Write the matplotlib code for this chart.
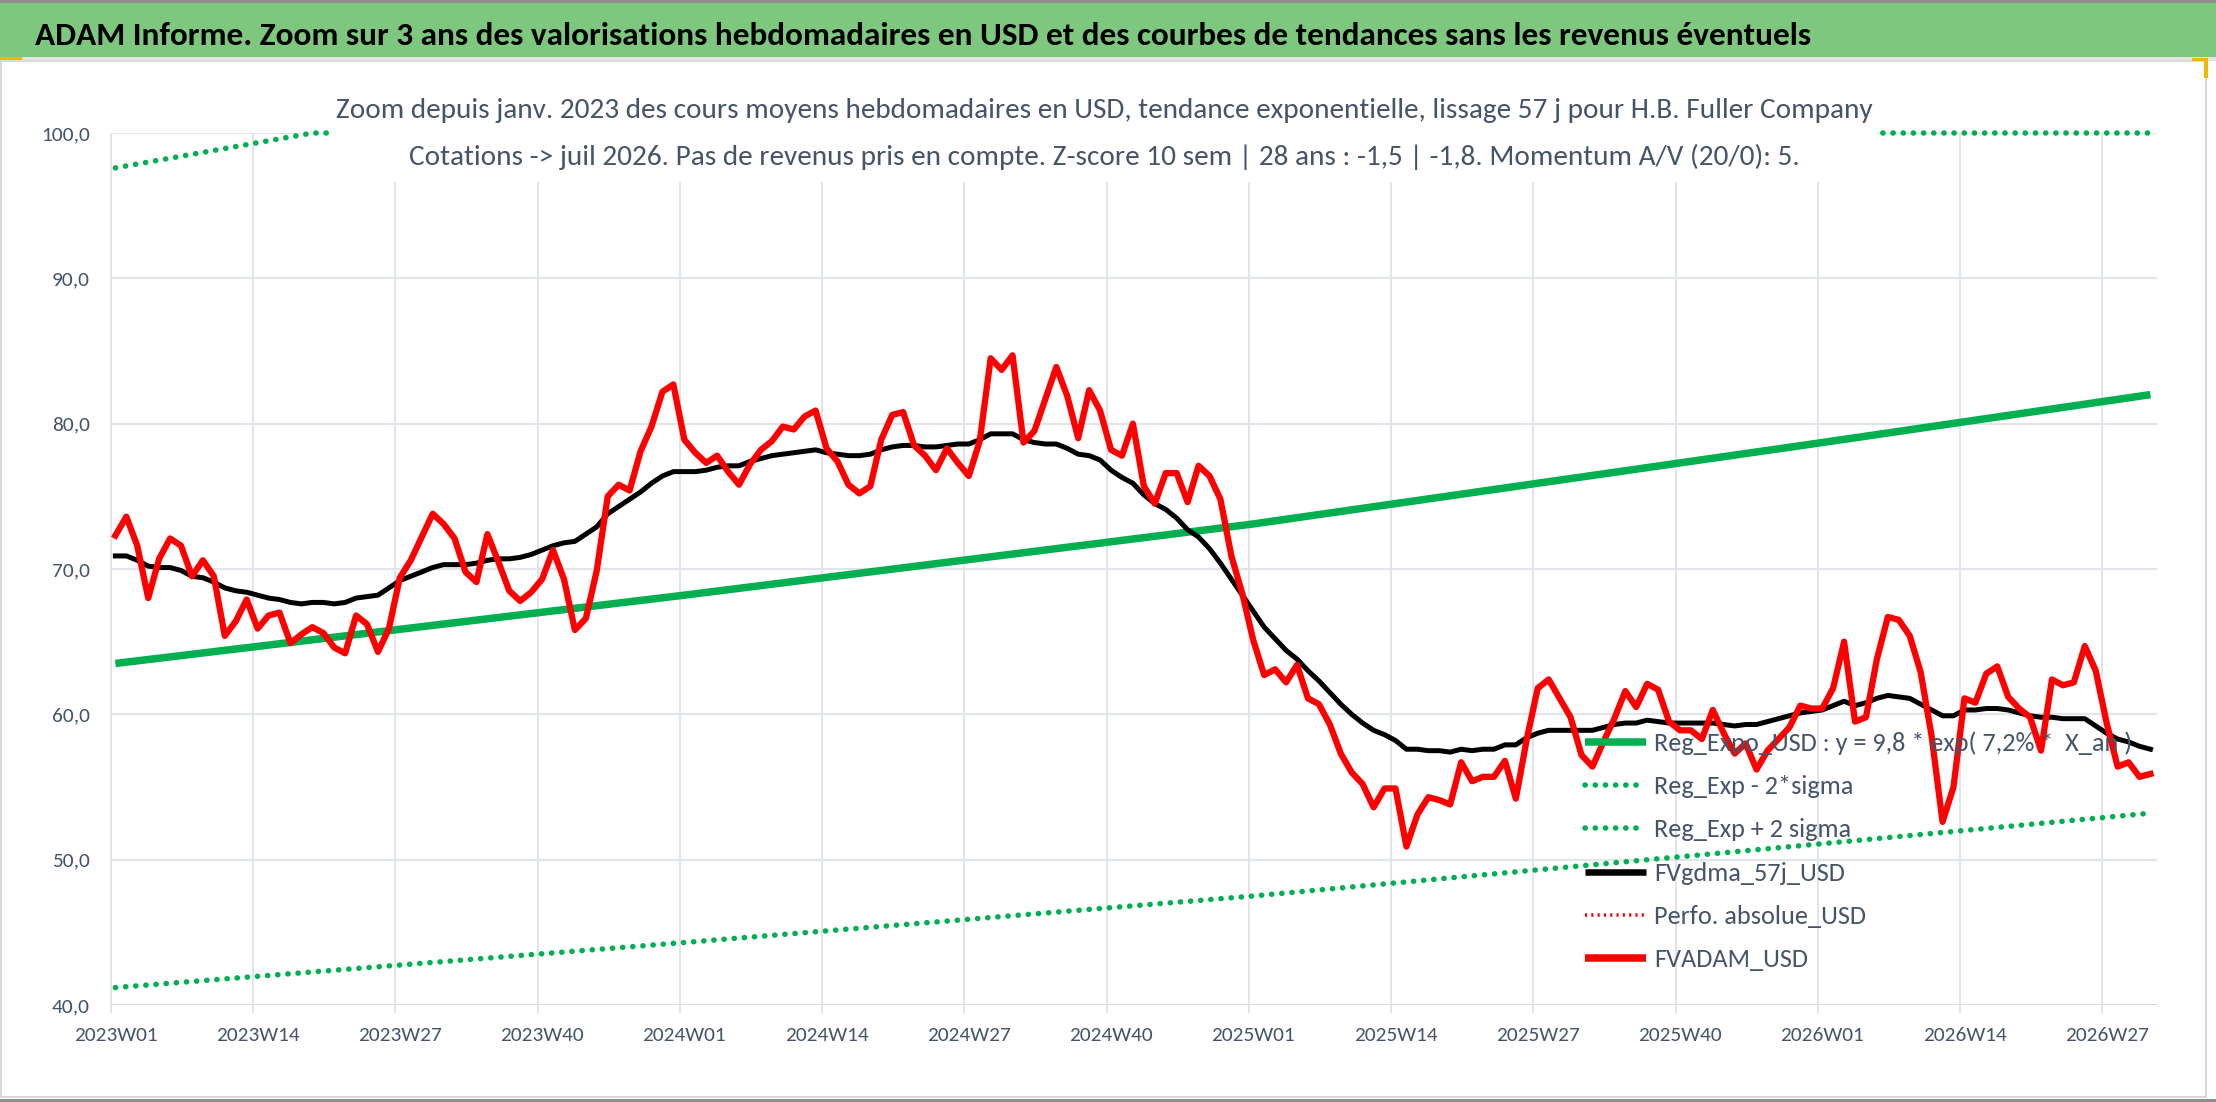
import matplotlib
matplotlib.use('Agg')
import matplotlib.pyplot as plt
from matplotlib import font_manager as fm
from matplotlib.lines import Line2D
from matplotlib.patches import Rectangle
import numpy as np

W, H, DPI = 2216, 1102, 100

# ---------------- data ----------------
title = "ADAM Informe. Zoom sur 3 ans des valorisations hebdomadaires en USD et des courbes de tendances sans les revenus éventuels"
subtitle1 = "Zoom depuis janv. 2023 des cours moyens hebdomadaires en USD, tendance exponentielle, lissage 57 j pour H.B. Fuller Company"
subtitle2 = "Cotations -> juil 2026. Pas de revenus pris en compte. Z-score 10 sem | 28 ans : -1,5 | -1,8. Momentum A/V (20/0): 5."

tick_labels = ['2023W01', '2023W14', '2023W27', '2023W40', '2024W01', '2024W14', '2024W27',
               '2024W40', '2025W01', '2025W14', '2025W27', '2025W40', '2026W01', '2026W14', '2026W27']
y_ticks = [40, 50, 60, 70, 80, 90, 100]
y_tick_labels = ['40,0', '50,0', '60,0', '70,0', '80,0', '90,0', '100,0']

fvadam_usd = [
    72.3, 73.6, 71.6, 68.0, 70.7, 72.1, 71.6, 69.5, 70.6, 69.5,
    65.4, 66.4, 67.9, 65.9, 66.8, 67.0, 64.9, 65.5, 66.0, 65.6,
    64.6, 64.2, 66.8, 66.2, 64.3, 65.9, 69.4, 70.6, 72.2, 73.8,
    73.1, 72.1, 69.8, 69.1, 72.4, 70.5, 68.5, 67.8, 68.4, 69.3,
    71.3, 69.3, 65.8, 66.6, 69.9, 75.0, 75.8, 75.4, 78.1, 79.8,
    82.2, 82.7, 78.9, 78.0, 77.3, 77.8, 76.7, 75.8, 77.2, 78.2,
    78.8, 79.8, 79.6, 80.5, 80.9, 78.3, 77.4, 75.8, 75.2, 75.7,
    78.9, 80.6, 80.8, 78.5, 77.8, 76.8, 78.3, 77.3, 76.4, 78.8,
    84.5, 83.7, 84.7, 78.7, 79.5, 81.7, 83.9, 81.9, 79.0, 82.3,
    80.9, 78.2, 77.8, 80.0, 75.7, 74.5, 76.6, 76.6, 74.6, 77.1,
    76.4, 74.8, 70.9, 68.3, 65.1, 62.7, 63.1, 62.2, 63.4, 61.1,
    60.7, 59.3, 57.3, 56.0, 55.2, 53.6, 54.9, 54.9, 50.9, 53.1,
    54.3, 54.1, 53.8, 56.7, 55.4, 55.7, 55.7, 56.8, 54.2, 58.3,
    61.8, 62.4, 61.1, 59.8, 57.2, 56.4, 58.1, 59.7, 61.6, 60.5,
    62.1, 61.7, 59.5, 58.9, 58.9, 58.3, 60.3, 58.7, 57.3, 58.0,
    56.2, 57.5, 58.3, 59.1, 60.6, 60.4, 60.4, 61.8, 65.0, 59.5,
    59.8, 63.8, 66.7, 66.5, 65.4, 62.9, 58.5, 52.6, 55.0, 61.1,
    60.8, 62.8, 63.3, 61.2, 60.4, 59.8, 57.5, 62.4, 62.0, 62.2,
    64.7, 63.0, 59.4, 56.4, 56.7, 55.7, 55.9]

fvgdma_57j_usd = [
    70.9, 70.9, 70.6, 70.2, 70.1, 70.1, 69.9, 69.5, 69.4, 69.1,
    68.7, 68.5, 68.4, 68.2, 68.0, 67.9, 67.7, 67.6, 67.7, 67.7,
    67.6, 67.7, 68.0, 68.1, 68.2, 68.7, 69.2, 69.5, 69.8, 70.1,
    70.3, 70.3, 70.3, 70.4, 70.6, 70.7, 70.7, 70.8, 71.0, 71.3,
    71.6, 71.8, 71.9, 72.4, 72.9, 73.8, 74.3, 74.8, 75.3, 75.9,
    76.4, 76.7, 76.7, 76.7, 76.8, 77.0, 77.1, 77.1, 77.4, 77.6,
    77.8, 77.9, 78.0, 78.1, 78.2, 78.0, 77.9, 77.8, 77.8, 77.9,
    78.2, 78.4, 78.5, 78.5, 78.4, 78.4, 78.5, 78.6, 78.6, 78.9,
    79.3, 79.3, 79.3, 78.9, 78.7, 78.6, 78.6, 78.3, 77.9, 77.8,
    77.5, 76.8, 76.3, 75.9, 75.1, 74.5, 74.1, 73.5, 72.7, 72.2,
    71.4, 70.4, 69.3, 68.2, 67.1, 66.0, 65.2, 64.4, 63.8, 63.0,
    62.3, 61.5, 60.7, 60.0, 59.4, 58.9, 58.6, 58.2, 57.6, 57.6,
    57.5, 57.5, 57.4, 57.6, 57.5, 57.6, 57.6, 57.9, 57.9, 58.4,
    58.7, 58.9, 58.9, 58.9, 58.9, 58.9, 59.1, 59.3, 59.4, 59.4,
    59.6, 59.5, 59.4, 59.4, 59.4, 59.4, 59.4, 59.3, 59.2, 59.3,
    59.3, 59.5, 59.7, 59.9, 60.1, 60.2, 60.3, 60.6, 60.9, 60.6,
    60.8, 61.1, 61.3, 61.2, 61.1, 60.7, 60.3, 59.9, 59.9, 60.3,
    60.3, 60.4, 60.4, 60.3, 60.1, 59.9, 59.8, 59.8, 59.7, 59.7,
    59.7, 59.2, 58.7, 58.3, 58.1, 57.8, 57.6]

# trend curves read at yearly anchor weeks (index of week since 2023W01)
trend_weeks = [0, 52, 104, 156, 186]
reg_expo_usd = [63.5, 68.2, 73.1, 78.7, 82.0]
reg_exp_minus_2sigma = [41.2, 44.3, 47.5, 51.1, 53.2]
# upper band as visible (stuck at the top edge of the plot once above 100)
upper_weeks = [0, 9, 18, 186]
reg_exp_plus_2sigma = [97.6, 98.8, 100.0, 100.0]
perfo_absolue_usd = []  # no visible points in the zoom window

legend_labels = ['Reg_Expo_USD : y = 9,8 * exp( 7,2% *  X_an )', 'Reg_Exp - 2*sigma',
                 'Reg_Exp + 2 sigma', 'FVgdma_57j_USD', 'Perfo. absolue_USD', 'FVADAM_USD']

# ---------------- fonts ----------------
avail = {f.name for f in fm.fontManager.ttflist}
main_font = None
stretch = 'normal'
for cand in ['Carlito', 'Liberation Sans Narrow', 'Roboto Condensed', 'Open Sans Condensed', 'Arial Narrow']:
    if cand in avail:
        main_font = cand
        break
if main_font is None:
    if any(f.name == 'DejaVu Sans' and 'condensed' in str(f.stretch) for f in fm.fontManager.ttflist):
        main_font, stretch = 'DejaVu Sans', 'condensed'
    elif 'Roboto' in avail:
        main_font = 'Roboto'
    else:
        main_font = 'DejaVu Sans'
FAM = [main_font, 'DejaVu Sans']
plt.rcParams['font.family'] = FAM
plt.rcParams['font.stretch'] = stretch

def fx(p):
    return p / W

def fy(p):
    return 1 - p / H

def lwpx(p):
    return p * 72.0 / DPI

GREEN = '#00B050'
RED = '#FF0000'
TXT = '#44546A'
GRID = '#E1E4EA'
DOTS = (0, (0.05, 1.8))

fig = plt.figure(figsize=(W / DPI, H / DPI), dpi=DPI)
fig.patch.set_facecolor('white')
renderer = fig.canvas.get_renderer()

def fit(t, target):
    for _ in range(4):
        w = t.get_window_extent(renderer=renderer).width
        if w > 0:
            t.set_fontsize(t.get_fontsize() * target / w)
    return t.get_fontsize()

def fit_size(s, target, weight='normal'):
    t = fig.text(0, 0, s, fontsize=20, fontweight=weight, family=FAM, fontstretch=stretch)
    sz = fit(t, target)
    t.remove()
    return sz

# ---------------- frame / banner ----------------
fig.add_artist(Rectangle((0, fy(3)), 1, 3 / H, transform=fig.transFigure, facecolor='#8E8E8E', edgecolor='none', zorder=1))
fig.add_artist(Rectangle((0, fy(57)), 1, 54 / H, transform=fig.transFigure, facecolor='#7DC87E', edgecolor='none', zorder=1))
fig.add_artist(Rectangle((0, fy(61)), 1, 4 / H, transform=fig.transFigure, facecolor='#E4E4E4', edgecolor='none', zorder=1))
fig.add_artist(Rectangle((fx(1), fy(1097)), fx(2205), (1097 - 61) / H, transform=fig.transFigure, fill=False,
                         edgecolor='#D9D9D9', lw=lwpx(2), zorder=1))
fig.add_artist(Rectangle((0, fy(1102)), 1, 3 / H, transform=fig.transFigure, facecolor='#8E8E8E', edgecolor='none', zorder=1))
fig.add_artist(Rectangle((0, fy(60)), fx(22), 3 / H, transform=fig.transFigure, facecolor='#F2B705', edgecolor='none', zorder=2))
fig.add_artist(Rectangle((fx(2204), fy(78)), fx(4), 20 / H, transform=fig.transFigure, facecolor='#F2B705', edgecolor='none', zorder=2))
fig.add_artist(Rectangle((fx(2192), fy(61)), fx(16), 3 / H, transform=fig.transFigure, facecolor='#F2B705', edgecolor='none', zorder=2))

t_title = fig.text(fx(35), fy(45), title, fontsize=26, fontweight='bold', color='black', va='baseline', ha='left', zorder=3)
fit(t_title, 1780)

# ---------------- axes ----------------
ax = fig.add_axes([fx(111), fy(1005), fx(2157 - 111), (1005 - 133) / H])
ax.set_facecolor('none')
x = np.arange(len(fvadam_usd))

for v in y_ticks:
    if v == 40:
        ax.axhline(v, color='#D9D9D9', lw=lwpx(3), zorder=1)
    else:
        ax.axhline(v, color=GRID, lw=lwpx(2.2), zorder=1)
for k in range(len(tick_labels)):
    ax.vlines(k * 13 - 0.4, 39.45, 100, color=GRID, lw=lwpx(2), zorder=1, clip_on=False)

ax.plot(trend_weeks, reg_expo_usd, color=GREEN, lw=lwpx(7.5), solid_capstyle='butt', zorder=3)
ax.plot(trend_weeks, reg_exp_minus_2sigma, color=GREEN, lw=lwpx(5.5), linestyle=DOTS,
        dash_capstyle='round', zorder=3)
ax.plot(upper_weeks, reg_exp_plus_2sigma, color=GREEN, lw=lwpx(5.5), linestyle=DOTS,
        dash_capstyle='round', zorder=3, clip_on=False)
ax.plot(x, fvgdma_57j_usd, color='black', lw=lwpx(5), zorder=4)
ax.plot(np.arange(len(perfo_absolue_usd)), perfo_absolue_usd, color=RED, lw=lwpx(3), linestyle=':', zorder=4)
ax.plot(x, fvadam_usd, color=RED, lw=lwpx(6.3), zorder=5)

ax.set_xlim(-0.4, 186.6)
ax.set_ylim(40, 100)
for s in ax.spines.values():
    s.set_visible(False)

xs = fit_size('2023W01', 84)
ys = fit_size('80,0', 38)
ax.set_xticks(np.arange(0, len(tick_labels) * 13, 13))
ax.set_xticklabels(tick_labels, fontsize=xs, color=TXT)
ax.set_yticks(y_ticks)
ax.set_yticklabels(y_tick_labels, fontsize=ys, color=TXT)
ax.tick_params(axis='x', length=0, pad=lwpx(22))
ax.tick_params(axis='y', length=0, pad=lwpx(21))

# ---------------- subtitle box ----------------
fig.add_artist(Rectangle((fx(330), fy(182)), fx(1876 - 330), (182 - 62) / H, transform=fig.transFigure,
                         facecolor='white', edgecolor='none', zorder=2))
t1 = fig.text(fx(1104), fy(118), subtitle1, fontsize=20, color=TXT, ha='center', va='baseline', zorder=3)
s1 = fit(t1, 1535)
t2 = fig.text(fx(1104), fy(165), subtitle2, fontsize=s1, color=TXT, ha='center', va='baseline', zorder=3)

# ---------------- legend (drawn over the plot, no frame) ----------------
rows = [742, 785, 828, 872, 915, 958]
styles = [
    dict(color=GREEN, lw=lwpx(7.5), linestyle='-', solid_capstyle='butt'),
    dict(color=GREEN, lw=lwpx(5.5), linestyle=DOTS, dash_capstyle='round'),
    dict(color=GREEN, lw=lwpx(5.5), linestyle=DOTS, dash_capstyle='round'),
    dict(color='black', lw=lwpx(6.5), linestyle='-', solid_capstyle='butt'),
    dict(color=RED, lw=lwpx(3.5), linestyle=(0, (0.6, 1.2)), dash_capstyle='butt'),
    dict(color=RED, lw=lwpx(7.5), linestyle='-', solid_capstyle='butt'),
]
lf = fit_size(legend_labels[0], 478)
cap = lf * DPI / 72.0 * 0.36
for r, lab, st in zip(rows, legend_labels, styles):
    fig.add_artist(Line2D([fx(1585), fx(1646)], [fy(r), fy(r)], transform=fig.transFigure, zorder=6, **st))
    fig.text(fx(1654), fy(r + cap), lab, fontsize=lf, color=TXT, ha='left', va='baseline', zorder=6)

fig.savefig('out.png', dpi=DPI, facecolor='white')
